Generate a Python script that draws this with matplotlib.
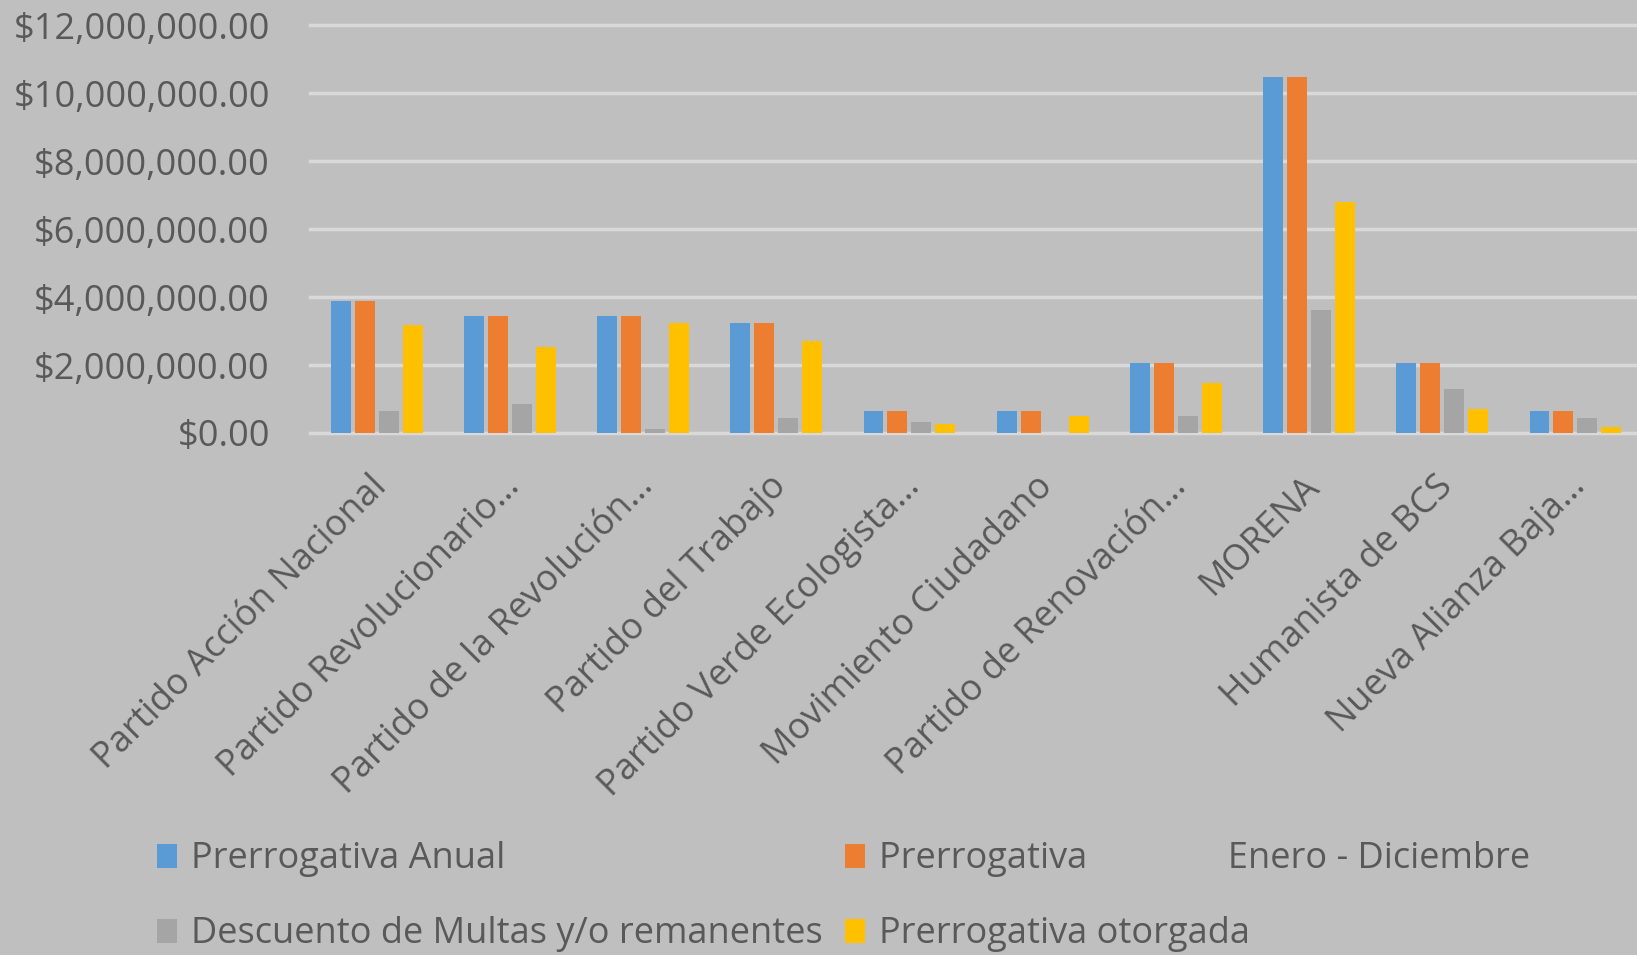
import numpy as np
import matplotlib
matplotlib.use("Agg")
import matplotlib.pyplot as plt
import matplotlib.transforms as mtransforms
from matplotlib.ticker import FuncFormatter

# Datos (en pesos)
partidos = [
    "Partido Acción Nacional",
    "Partido Revolucionario…",
    "Partido de la Revolución…",
    "Partido del Trabajo",
    "Partido Verde Ecologista…",
    "Movimiento Ciudadano",
    "Partido de Renovación…",
    "MORENA",
    "Humanista de BCS",
    "Nueva Alianza Baja…",
]
prerrogativa_anual = [3.88e6, 3.43e6, 3.43e6, 3.24e6, 0.64e6, 0.64e6, 2.07e6, 10.47e6, 2.07e6, 0.65e6]
prerrogativa_ene_dic = [3.88e6, 3.43e6, 3.43e6, 3.24e6, 0.64e6, 0.64e6, 2.07e6, 10.47e6, 2.07e6, 0.65e6]
descuento_multas = [0.64e6, 0.84e6, 0.13e6, 0.45e6, 0.31e6, 0.0, 0.51e6, 3.61e6, 1.28e6, 0.45e6]
prerrogativa_otorgada = [3.17e6, 2.52e6, 3.24e6, 2.71e6, 0.25e6, 0.51e6, 1.48e6, 6.78e6, 0.70e6, 0.18e6]

series = [
    ("Prerrogativa Anual", prerrogativa_anual, "#5B9BD5"),
    ("Prerrogativa" + " " * 15 + "Enero - Diciembre", prerrogativa_ene_dic, "#ED7D31"),
    ("Descuento de Multas y/o remanentes", descuento_multas, "#A5A5A5"),
    ("Prerrogativa otorgada", prerrogativa_otorgada, "#FFC000"),
]

FONDO = "#BFBFBF"
REJILLA = "#D9D9D9"
TEXTO = "#595959"
TAM = 26

plt.rcParams["font.family"] = ["Open Sans", "DejaVu Sans"]

fig = plt.figure(figsize=(16.37, 9.55), dpi=100, facecolor=FONDO)
ax = fig.add_axes([0.1894, 0.5466, 0.8137, 0.4272], facecolor=FONDO)

x = np.arange(len(partidos))
paso, ancho = 0.18, 0.15
barras = []
for i, (nombre, valores, color) in enumerate(series):
    b = ax.bar(x + (i - 1.5) * paso, valores, width=ancho, color=color, label=nombre, zorder=3)
    barras.append(b)

ax.set_xlim(-0.5, len(partidos) - 0.5)
ax.set_ylim(0, 12e6)
ax.set_yticks(np.arange(0, 12e6 + 1, 2e6))
ax.yaxis.set_major_formatter(FuncFormatter(lambda v, p: f"${v:,.2f}"))
ax.grid(axis="y", color=REJILLA, linewidth=2.5, zorder=0)
for gl in ax.get_ygridlines():
    gl.set_clip_on(False)
ax.set_axisbelow(True)
for s in ax.spines.values():
    s.set_visible(False)

ax.tick_params(axis="y", length=0, pad=29, labelsize=TAM, labelcolor=TEXTO)
ax.tick_params(axis="x", length=0, pad=35, labelsize=TAM, labelcolor=TEXTO)
ax.set_xticks(x)
ax.set_xticklabels(partidos, rotation=45, ha="right", va="center", rotation_mode="anchor")
desplazar = mtransforms.ScaledTranslation(5 / 100, 0, fig.dpi_scale_trans)
for lbl in ax.get_xticklabels():
    lbl.set_transform(lbl.get_transform() + desplazar)

# Leyenda: columna 1 = Anual, Descuento; columna 2 = Enero-Diciembre, otorgada
orden = [0, 2, 1, 3]
fig.legend([barras[k] for k in orden], [series[k][0] for k in orden],
           loc="upper left", bbox_to_anchor=(0.096, 0.119), ncol=2,
           frameon=False, fontsize=TAM, labelcolor=TEXTO,
           handlelength=0.55, handleheight=0.65, handletextpad=0.4,
           columnspacing=0.6, labelspacing=1.08, borderaxespad=0, borderpad=0)

fig.savefig("out.png", dpi=100, facecolor=FONDO)
